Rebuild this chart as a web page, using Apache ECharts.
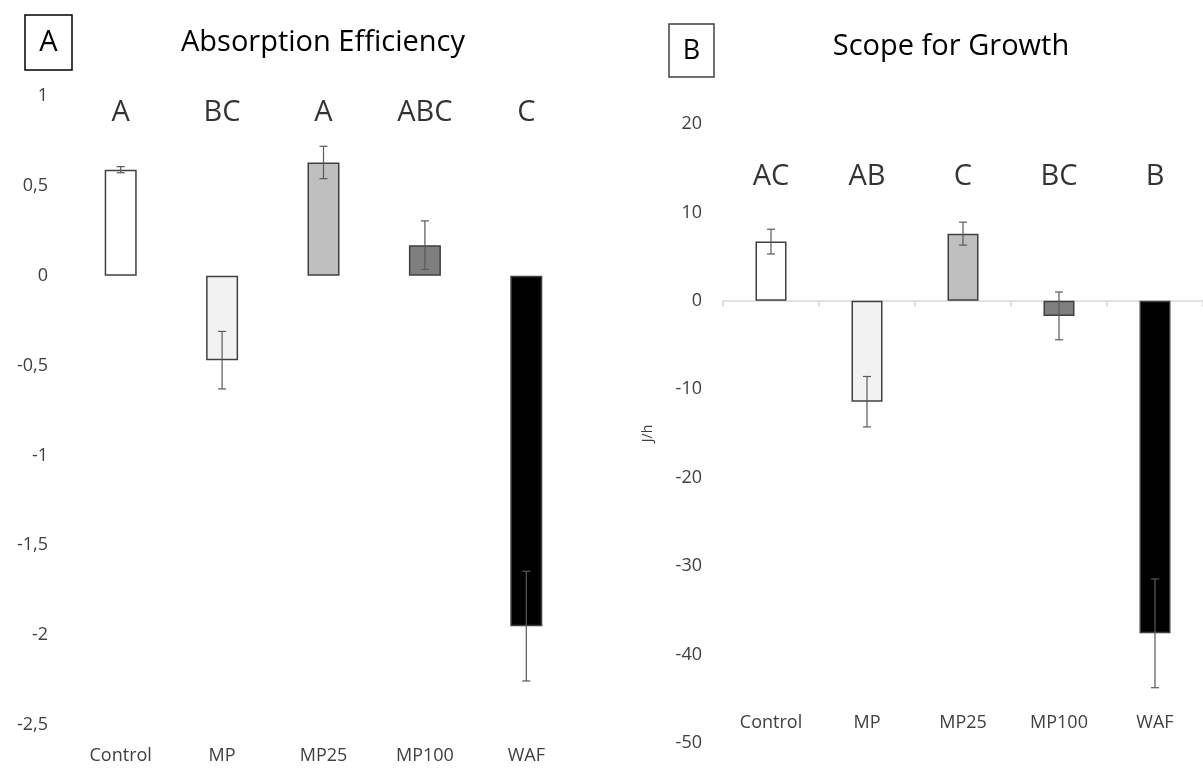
<!DOCTYPE html>
<html>
<head>
<meta charset="utf-8">
<script src="https://cdn.jsdelivr.net/npm/echarts@6/dist/echarts.min.js"></script>
<style>
  html, body { margin: 0; padding: 0; background: #fff; }
  #main { width: 1203px; height: 770px; }
</style>
</head>
<body>
<div id="main"></div>
<script>
// groups
var categories = ['Control', 'MP', 'MP25', 'MP100', 'WAF']
var barColors = ['#ffffff', '#f2f2f2', '#bfbfbf', '#7f7f7f', '#000000']

// A: absorption efficiency
var aeMean = [0.59, -0.47, 0.63, 0.17, -1.95]
var aeErr = [0.017, 0.16, 0.09, 0.135, 0.305]
var aeLetters = ['A', 'BC', 'A', 'ABC', 'C']
var aeTicks = { min: -2.5, max: 1, interval: 0.5 }

// B: scope for growth (J/h)
var sfgMean = [6.7, -11.4, 7.6, -1.7, -37.6]
var sfgErr = [1.4, 2.85, 1.3, 2.7, 6.15]
var sfgLetters = ['AC', 'AB', 'C', 'BC', 'B']
var sfgTicks = { min: -50, max: 20, interval: 10 }

var FONT = 'Open Sans'
var chart = echarts.init(document.getElementById('main'))

function barSeries(mean, idx) {
  return {
    type: 'bar',
    xAxisIndex: idx,
    yAxisIndex: idx,
    barWidth: idx === 0 ? 32 : 31,
    data: mean.map(function (v, i) {
      return { value: v, itemStyle: { color: barColors[i] } }
    }),
    itemStyle: { borderColor: '#404040', borderWidth: 1.5 },
    silent: true
  }
}

function errSeries(mean, err, idx) {
  return {
    type: 'custom',
    xAxisIndex: idx,
    yAxisIndex: idx,
    silent: true,
    z: 5,
    data: mean.map(function (v, i) { return [i, v - err[i], v + err[i]] }),
    renderItem: function (params, api) {
      var lo = api.coord([api.value(0), api.value(1)])
      var hi = api.coord([api.value(0), api.value(2)])
      var c = 4
      var st = { stroke: '#595959', lineWidth: 1.2 }
      return {
        type: 'group',
        children: [
          { type: 'line', shape: { x1: hi[0], y1: hi[1], x2: lo[0], y2: lo[1] }, style: st },
          { type: 'line', shape: { x1: hi[0] - c, y1: hi[1], x2: hi[0] + c, y2: hi[1] }, style: st },
          { type: 'line', shape: { x1: lo[0] - c, y1: lo[1], x2: lo[0] + c, y2: lo[1] }, style: st }
        ]
      }
    }
  }
}

function letterSeries(letters, yVal, idx) {
  return {
    type: 'scatter',
    xAxisIndex: idx,
    yAxisIndex: idx,
    symbolSize: 0,
    silent: true,
    data: letters.map(function (l, i) { return [i, yVal] }),
    label: {
      show: true,
      position: 'inside',
      fontFamily: FONT,
      fontSize: 29,
      color: '#000',
      formatter: function (p) { return letters[p.dataIndex] }
    }
  }
}

chart.setOption({
  animation: false,
  grid: [
    { left: 70, top: 96, width: 507, height: 629 },
    { left: 723, top: 124, width: 492, height: 619 }
  ],
  xAxis: [
    {
      type: 'category', gridIndex: 0, data: categories, position: 'bottom',
      axisLine: { show: false, onZero: false }, axisTick: { show: false },
      axisLabel: { margin: 22, fontFamily: FONT, fontSize: 18, color: '#404040' }
    },
    {
      type: 'category', gridIndex: 1, data: categories,
      axisLine: { show: true, onZero: true, lineStyle: { color: '#d9d9d9', width: 1.5 } },
      axisTick: { show: true, length: 6, lineStyle: { color: '#d9d9d9', width: 1.5 } },
      axisLabel: { show: false }
    },
    {
      type: 'category', gridIndex: 1, data: categories, position: 'bottom', offset: -37,
      axisLine: { show: false, onZero: false }, axisTick: { show: false },
      axisLabel: { margin: 8, fontFamily: FONT, fontSize: 18, color: '#404040' }
    }
  ],
  yAxis: [
    {
      type: 'value', gridIndex: 0,
      min: aeTicks.min, max: aeTicks.max, interval: aeTicks.interval,
      axisLine: { show: false }, axisTick: { show: false }, splitLine: { show: false },
      axisLabel: {
        margin: 22, fontFamily: FONT, fontSize: 18, color: '#404040',
        formatter: function (v) { return String(v).replace('.', ',') }
      }
    },
    {
      type: 'value', gridIndex: 1,
      min: sfgTicks.min, max: sfgTicks.max, interval: sfgTicks.interval,
      name: 'J/h', nameLocation: 'middle', nameGap: 68, nameRotate: 90,
      nameTextStyle: { fontFamily: FONT, fontSize: 14, color: '#404040' },
      axisLine: { show: false }, axisTick: { show: false }, splitLine: { show: false },
      axisLabel: { margin: 21, fontFamily: FONT, fontSize: 18, color: '#404040' }
    }
  ],
  graphic: [
    { type: 'rect', shape: { x: 25, y: 15, width: 47, height: 55 }, style: { fill: '#fff', stroke: '#000', lineWidth: 1.5 } },
    { type: 'text', x: 48.5, y: 43, style: { text: 'A', font: '29px "Open Sans"', fill: '#000', align: 'center', verticalAlign: 'middle' } },
    { type: 'text', x: 323, y: 43, style: { text: 'Absorption Efficiency', font: '29px "Open Sans"', fill: '#000', align: 'center', verticalAlign: 'middle' } },
    { type: 'rect', shape: { x: 669, y: 24, width: 45, height: 53 }, style: { fill: '#fff', stroke: '#404040', lineWidth: 1.5 } },
    { type: 'text', x: 691.5, y: 51, style: { text: 'B', font: '27px "Open Sans"', fill: '#000', align: 'center', verticalAlign: 'middle' } },
    { type: 'text', x: 951, y: 47, style: { text: 'Scope for Growth', font: '29px "Open Sans"', fill: '#000', align: 'center', verticalAlign: 'middle' } }
  ],
  series: [
    barSeries(aeMean, 0),
    errSeries(aeMean, aeErr, 0),
    letterSeries(aeLetters, 0.905, 0),
    barSeries(sfgMean, 1),
    errSeries(sfgMean, sfgErr, 1),
    letterSeries(sfgLetters, 14, 1)
  ]
})
</script>
</body>
</html>
